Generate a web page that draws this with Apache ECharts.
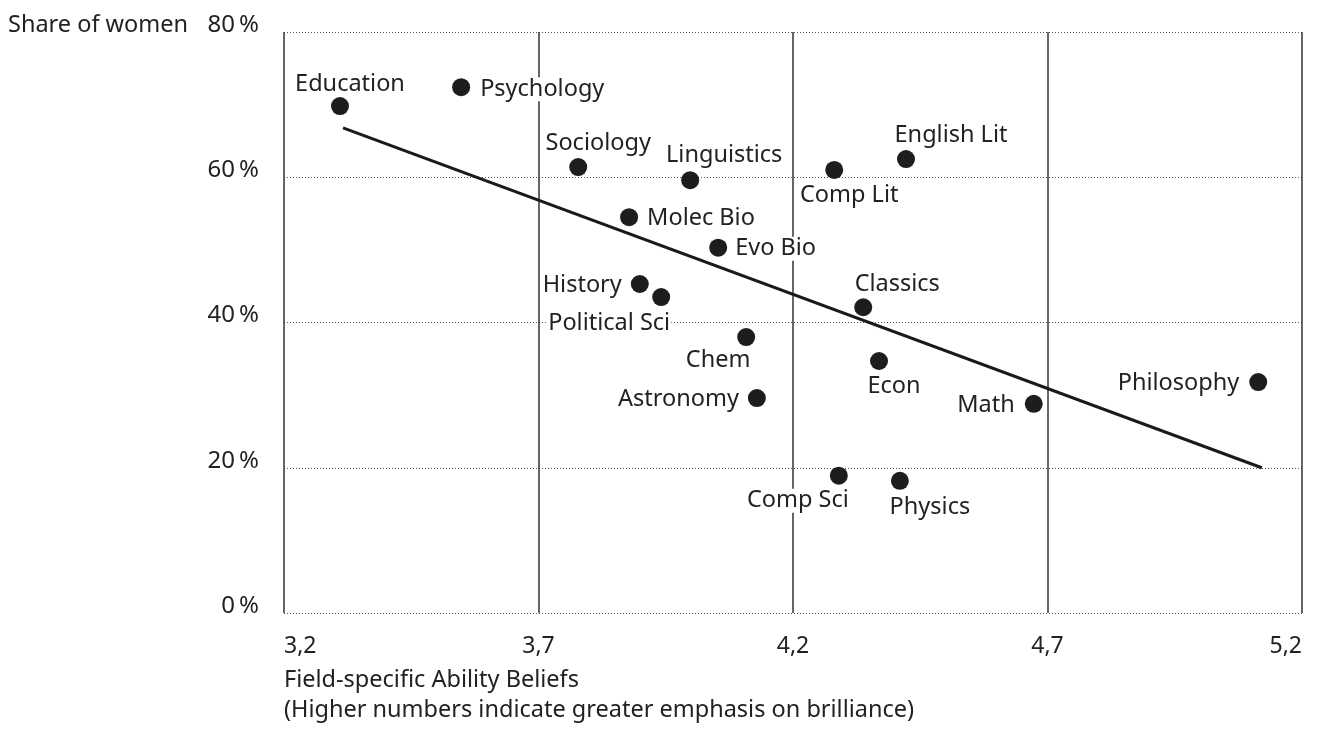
<!DOCTYPE html>
<html>
<head>
<meta charset="utf-8">
<style>
  html, body { margin: 0; padding: 0; background: #fff; }
  #chart { width: 1320px; height: 729px; }
</style>
<script src="https://cdn.jsdelivr.net/npm/echarts@6.0.0/dist/echarts.min.js"></script>
</head>
<body>
<div id="chart"></div>
<script>
// fields and their values
var fields = ['Education', 'Psychology', 'Sociology', 'Linguistics', 'Comp Lit', 'English Lit',
  'Molec Bio', 'Evo Bio', 'History', 'Political Sci', 'Classics', 'Chem', 'Econ',
  'Astronomy', 'Philosophy', 'Math', 'Comp Sci', 'Physics'];
var beliefs = [3.31, 3.548, 3.778, 3.998, 4.281, 4.422, 3.878, 4.053, 3.899, 3.941,
  4.338, 4.108, 4.369, 4.129, 5.114, 4.673, 4.29, 4.41];
var shares = [69.8, 72.4, 61.4, 59.6, 61.0, 62.5, 54.5, 50.3, 45.3, 43.5,
  42.1, 38.0, 34.7, 29.6, 31.8, 28.8, 18.9, 18.2];
var trendX = [3.316, 5.121];
var trendY = [66.8, 20.0];

// where each name sits next to its dot
var labelPos = {
  'Education': ['top', [10, 4]],
  'Psychology': ['right', [4, 2]],
  'Sociology': ['top', [20, 2]],
  'Linguistics': ['top', [34, 1]],
  'Comp Lit': ['bottom', [15, -1]],
  'English Lit': ['top', [45, 2]],
  'Molec Bio': ['right', [3, 1]],
  'Evo Bio': ['right', [2, 1]],
  'History': ['left', [-3, 1]],
  'Political Sci': ['bottom', [-52, 0]],
  'Classics': ['top', [34, 3]],
  'Chem': ['bottom', [-28, -3]],
  'Econ': ['bottom', [15, -1]],
  'Astronomy': ['left', [-3, 1]],
  'Philosophy': ['left', [-4, 1]],
  'Math': ['left', [-4, 1]],
  'Comp Sci': ['bottom', [-41, -1]],
  'Physics': ['bottom', [30, 0]]
};

var FONT = '"Noto Sans", "Open Sans", sans-serif';
var INK = '#222';

var points = fields.map(function (f, i) {
  var p = labelPos[f];
  return {
    name: f,
    value: [beliefs[i], shares[i]],
    label: { position: p[0], offset: p[1] }
  };
});

var chart = echarts.init(document.getElementById('chart'));
chart.setOption({
  animation: false,
  textStyle: { fontFamily: FONT },
  grid: { left: 284, right: 18, top: 32, bottom: 116 },
  xAxis: {
    type: 'value',
    min: 3.2, max: 5.2, interval: 0.5,
    axisLine: { show: false },
    axisTick: { show: false },
    axisLabel: {
      color: INK, fontSize: 23, fontFamily: FONT, margin: 22,
      alignMinLabel: 'left', alignMaxLabel: 'right',
      formatter: function (v) { return v.toFixed(1).replace('.', ','); }
    },
    splitLine: { show: true, lineStyle: { color: '#333', width: 1.5, type: 'solid' } }
  },
  yAxis: {
    type: 'value',
    min: 0, max: 80, interval: 20,
    axisLine: { show: false },
    axisTick: { show: false },
    axisLabel: {
      color: INK, fontSize: 24, fontFamily: FONT, margin: 25,
      verticalAlign: 'bottom', lineHeight: 14,
      formatter: function (v) { return v + '\u2009%'; }
    },
    splitLine: { show: true, lineStyle: { color: '#555', width: 1, type: [1, 2] } }
  },
  graphic: [
    { type: 'text', left: 8, top: 13, style: { text: 'Share of women', fill: INK, fontSize: 23.5, fontFamily: FONT } },
    { type: 'text', left: 284, top: 668, style: { text: 'Field-specific Ability Beliefs', fill: INK, fontSize: 23.5, fontFamily: FONT } },
    { type: 'text', left: 284, top: 698, style: { text: '(Higher numbers indicate greater emphasis on brilliance)', fill: INK, fontSize: 23.5, fontFamily: FONT } }
  ],
  series: [
    {
      type: 'line',
      data: [[trendX[0], trendY[0]], [trendX[1], trendY[1]]],
      showSymbol: false,
      lineStyle: { color: '#1a1a1a', width: 3 },
      z: 2
    },
    {
      type: 'scatter',
      data: points,
      symbolSize: 18,
      itemStyle: { color: '#1d1d1d', opacity: 1 },
      label: {
        show: true,
        formatter: '{b}',
        color: INK,
        fontSize: 23.5,
        fontFamily: FONT,
        backgroundColor: '#fff',
        padding: [0, 1]
      },
      z: 3
    }
  ]
});
</script>
</body>
</html>
